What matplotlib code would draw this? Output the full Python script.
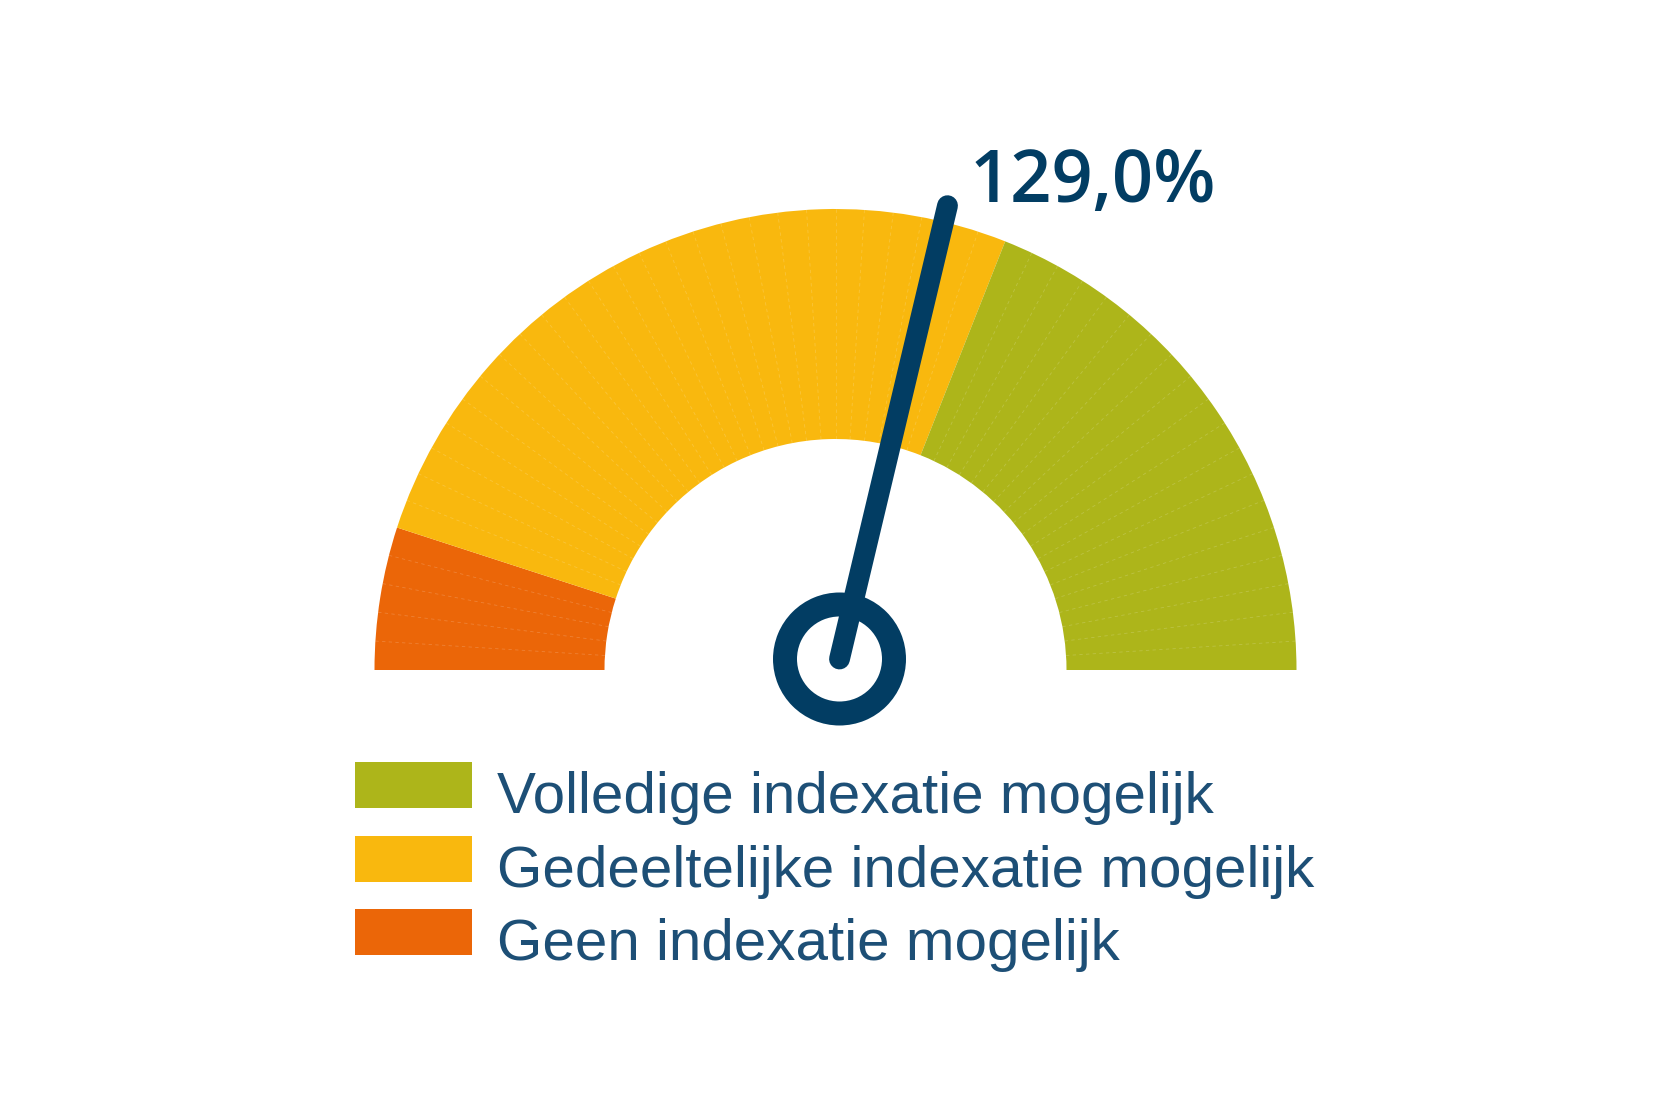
import matplotlib
matplotlib.use('Agg')
import matplotlib.pyplot as plt
import numpy as np
from matplotlib.patches import Wedge, Rectangle

# gauge data
scale_min = 100
scale_max = 150
thresholds = [100, 105, 131, 150]
band_colors = ['#eb6608', '#f9b80e', '#adb51a']
value = 129.0
value_label = '129,0%'

legend_labels = ['Volledige indexatie mogelijk',
                 'Gedeeltelijke indexatie mogelijk',
                 'Geen indexatie mogelijk']
legend_colors = ['#adb51a', '#f9b80e', '#eb6608']

navy = '#023d63'
text_blue = '#1d4f76'

W, H = 1672, 1120
fig = plt.figure(figsize=(W / 100, H / 100), dpi=100)
ax = fig.add_axes([0, 0, 1, 1])
ax.set_xlim(0, W)
ax.set_ylim(0, H)
ax.axis('off')

cx, cy = 835.5, H - 670
r_out, r_in = 461, 231


def to_angle(v):
    return 180 - (v - scale_min) / (scale_max - scale_min) * 180


# bands
for i, c in enumerate(band_colors):
    a1 = to_angle(thresholds[i + 1])
    a2 = to_angle(thresholds[i])
    ax.add_patch(Wedge((cx, cy), r_out, a1, a2, width=r_out - r_in,
                       facecolor=c, edgecolor='none'))

# faint unit lines inside the bands
for v in range(scale_min + 1, scale_max):
    if v in thresholds:
        continue
    t = np.radians(to_angle(v))
    ax.plot([cx + r_in * np.cos(t), cx + r_out * np.cos(t)],
            [cy + r_in * np.sin(t), cy + r_out * np.sin(t)],
            color='white', alpha=0.18, lw=0.6, ls=(0, (4, 4)))

# needle (pivot sits a bit above the gauge base, hence the small tilt)
px, py = 839.5, H - 659
t = np.radians(to_angle(value) + 1.0)
length = 466
ax.plot([px, px + length * np.cos(t)], [py, py + length * np.sin(t)],
        color=navy, lw=15, solid_capstyle='round', zorder=5)
ax.add_patch(Wedge((px, py), 66.5, 0, 360, width=24, facecolor=navy,
                   edgecolor='none', zorder=5))

ax.text(970, H - 202, value_label, fontsize=52, fontweight='semibold',
        family=['Open Sans', 'DejaVu Sans'], color=navy,
        ha='left', va='baseline')

# legend
box_x, box_w, box_h = 355, 117, 46
box_tops = [762, 836, 909]
for lab, c, top in zip(legend_labels, legend_colors, box_tops):
    ax.add_patch(Rectangle((box_x, H - top - box_h), box_w, box_h,
                           facecolor=c, edgecolor='none'))
    ax.text(497, H - top - 51, lab, fontsize=42,
            family=['Liberation Sans', 'DejaVu Sans'],
            color=text_blue, ha='left', va='baseline')

fig.savefig('out.png', dpi=100, facecolor='white')
